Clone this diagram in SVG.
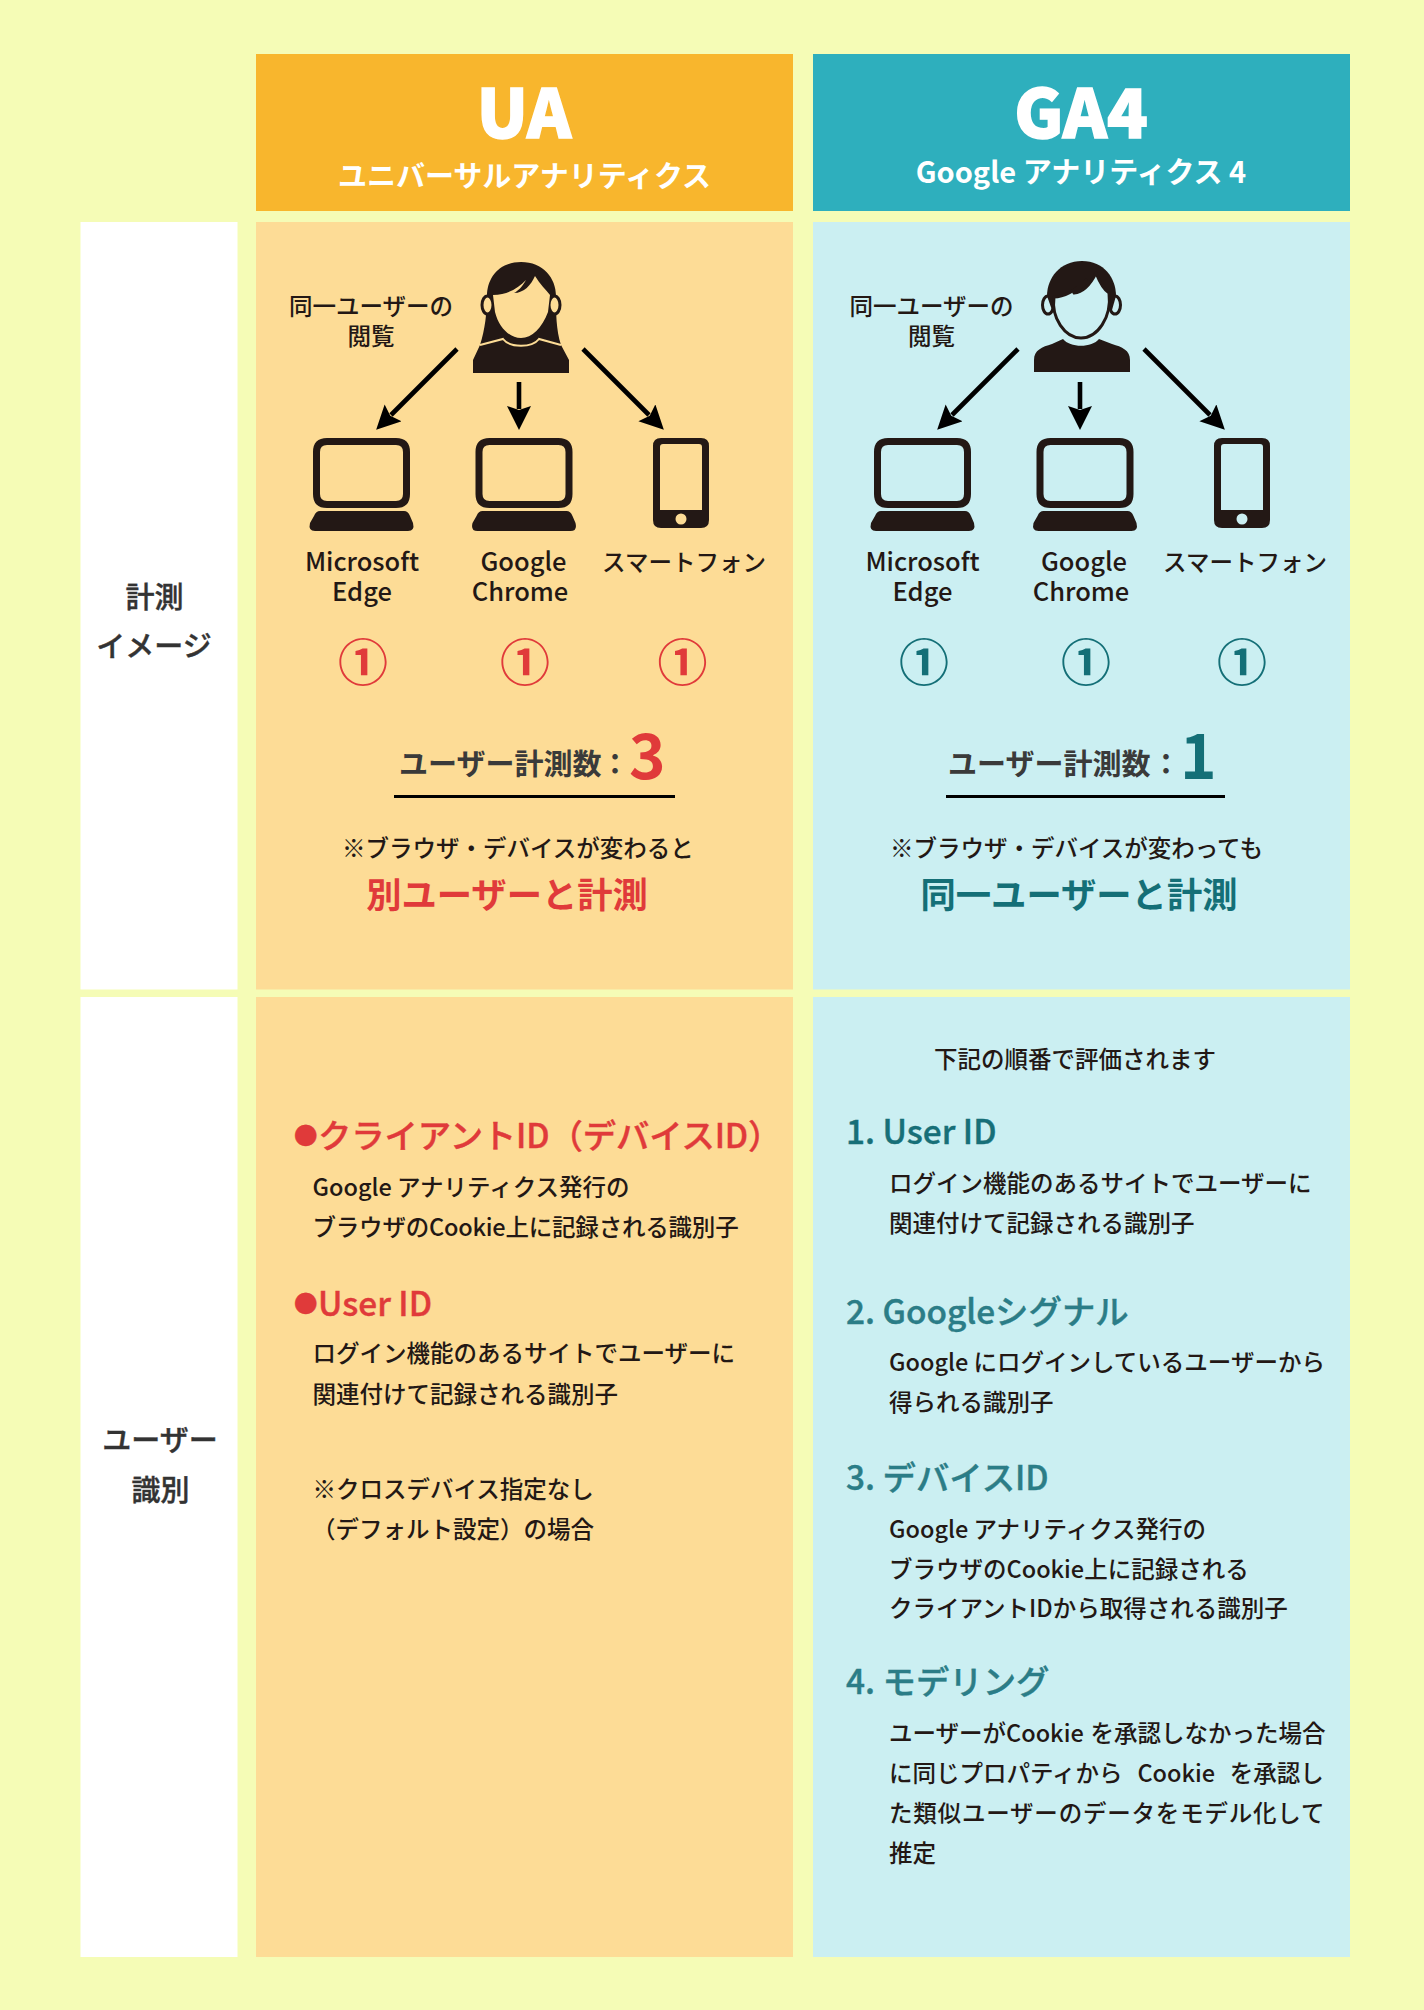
<svg xmlns="http://www.w3.org/2000/svg" xmlns:xlink="http://www.w3.org/1999/xlink" width="1424" height="2010" viewBox="0 0 1424 2010">
<style>
text{font-family:"Noto Sans CJK JP","Noto Sans",sans-serif;font-weight:500;fill:#231815}
.c{text-anchor:middle}
.b{font-size:23.500px}
.l{font-size:25.500px}
.h1{font-size:67px;font-weight:900;fill:#fff;stroke:#fff;stroke-width:1.500px;text-anchor:middle}
.h2{font-size:29px;font-weight:700;fill:#fff;text-anchor:middle}
.side{font-size:29px;text-anchor:middle;fill:#333;stroke:#333;stroke-width:.4px}
.cnt{font-size:29px;fill:#3a3a3a;font-weight:700}
.red{fill:#e03a3a}
.teal{fill:#146f77}
.big{font-size:35.300px;font-weight:700}
.num{font-size:62px;font-weight:700}
.circ{font-size:50px;font-weight:700;text-anchor:middle}
.h3{font-size:33.400px;stroke:#e03a3a;stroke-width:.4px}
.dot{font-size:23.500px}
.tl{fill:#2b7d87;stroke:#2b7d87;stroke-width:.4px;font-size:33.400px}
.ink{fill:#231815}
.arrow{stroke:#000;stroke-width:4.600;fill:none;marker-end:url(#ah)}
</style>
<defs>
<marker id="ah" markerUnits="userSpaceOnUse" markerWidth="25" markerHeight="25" refX="3" refY="12" orient="auto"><path d="M0,0 L24,12 L0,24 L4,12 Z" fill="#000"/></marker>
<g id="laptop"><path class="ink" fill-rule="evenodd" d="M14,0 H83 Q97,0 97,14 V56 Q97,70 83,70 H14 Q0,70 0,56 V14 Q0,0 14,0 Z M14,7 Q7,7 7,14 V56 Q7,63 14,63 H83 Q90,63 90,56 V14 Q90,7 83,7 Z"/><path class="ink" d="M7,73 H91 Q95,73 97,78 L100,85 Q102,93 95,93 H2 Q-5,93 -3,85 L1,78 Q3,73 7,73 Z"/></g>
<g id="phone"><path class="ink" fill-rule="evenodd" d="M8,0 H48 Q56,0 56,8 V82 Q56,90 48,90 H8 Q0,90 0,82 V8 Q0,0 8,0 Z M10,6 Q7,6 7,9 V72 H49 V9 Q49,6 46,6 Z"/></g>
</defs>
<rect width="1424" height="2010" fill="#f5fcb6"/>
<g id="header-ua"><rect x="256" y="54" width="537" height="157" fill="#f8b62d"/><text class="h1" x="524" y="137.500">UA</text><text class="h2" x="524.500" y="187">ユニバーサルアナリティクス</text></g>
<g id="header-ga4"><rect x="813" y="54" width="537" height="157" fill="#2eafbd"/><text class="h1" x="1081" y="137.500">GA4</text><text class="h2" x="1081" y="183">Google アナリティクス 4</text></g>
<g id="label-measure"><rect x="80.500" y="222" width="157" height="767.500" fill="#fff"/><text class="side" x="154.500" y="608">計測</text><text class="side" x="154" y="657">イメージ</text></g>
<g id="label-identify"><rect x="80.500" y="997" width="157" height="960" fill="#fff"/><text class="side" x="160" y="1451">ユーザー</text><text class="side" x="160.500" y="1501">識別</text></g>
<g id="panel-ua-measure"><rect x="256" y="222" width="537" height="767.500" fill="#fddc96"/>
<text class="b c" x="371" y="315">同一ユーザーの</text><text class="b c" x="371" y="345">閲覧</text>
<g id="person-f">
<path class="ink" d="M521,262 C499,262 487,278 487,296 C487,312 485,330 480,345 L473,360 L473,373 H569 V360 L561,345 C556,330 556,312 556,296 C556,278 543,262 521,262 Z"/>
<ellipse cx="487.500" cy="305" rx="5.500" ry="9" fill="#fddc96" stroke="#231815" stroke-width="3"/><ellipse cx="554.500" cy="305" rx="5.500" ry="9" fill="#fddc96" stroke="#231815" stroke-width="3"/>
<path fill="#fddc96" d="M493,295 C508,295 518,288 526,280 C522,287 518,291 514,293 C524,293 531,285 535,276 C540,284 546,290 550,295 L548,312 C542,328 532,338 521,338 C510,338 499,328 495,312 Z"/>
<path d="M480,345 L503,339 C510,348 532,348 539,339 L561,345" fill="none" stroke="#fddc96" stroke-width="2"/>
</g>
<use xlink:href="#laptop" href="#laptop" x="313" y="438"/><use xlink:href="#laptop" href="#laptop" x="475.500" y="438"/><use xlink:href="#phone" href="#phone" x="653" y="438"/><circle cx="681" cy="519" r="5.500" fill="#fddc96"/>
<text class="l c" x="362" y="571">Microsoft</text><text class="l c" x="362" y="601">Edge</text><text class="l c" x="523.500" y="571">Google</text><text class="l c" x="520" y="601">Chrome</text><text class="b c" x="684" y="571">スマートフォン</text>
<text class="circ red" x="363" y="681">①</text><text class="circ red" x="525" y="681">①</text><text class="circ red" x="682.500" y="681">①</text>
<text class="cnt" x="399" y="775">ユーザー計測数<tspan x="600.500">：</tspan></text><text class="num red" x="629" y="779">3</text>
<rect x="394" y="795" width="281" height="3" fill="#000"/>
<text class="b" x="342" y="857">※ブラウザ・デバイスが変わると</text><text class="big red c" x="507" y="908">別ユーザーと計測</text>
</g>
<g id="panel-ga4-measure"><rect x="813" y="222" width="537" height="767.500" fill="#cbeff2"/>
<text class="b c" x="931.500" y="315">同一ユーザーの</text><text class="b c" x="931.500" y="345">閲覧</text>
<g id="person-m">
<path class="ink" d="M1034,372 V360 C1034,350 1042,347 1052,344 L1063,339 C1070,348 1092,348 1099,339 L1112,344 C1122,347 1130,350 1130,360 V372 Z"/>
<ellipse cx="1048" cy="305" rx="5.500" ry="9" fill="#cbeff2" stroke="#231815" stroke-width="3"/><ellipse cx="1115" cy="305" rx="5.500" ry="9" fill="#cbeff2" stroke="#231815" stroke-width="3"/>
<path class="ink" d="M1082,261 C1060,261 1047,278 1047,296 L1052,310 H1112 L1116,296 C1116,278 1104,261 1082,261 Z"/>
<path fill="#cbeff2" stroke="#231815" stroke-width="3" stroke-linejoin="round" d="M1054,297 C1067,297 1078,288 1086,280 C1082,287 1078,290 1074,293 C1084,292 1091,283 1096,273 C1100,283 1104,290 1109,293 C1112,318 1097,338 1081,338 C1065,338 1051,318 1054,297 Z"/>
</g>
<use xlink:href="#laptop" href="#laptop" x="874" y="438"/><use xlink:href="#laptop" href="#laptop" x="1036.500" y="438"/><use xlink:href="#phone" href="#phone" x="1214" y="438"/><circle cx="1242" cy="519" r="5.500" fill="#cbeff2"/>
<text class="l c" x="922.500" y="571">Microsoft</text><text class="l c" x="922.500" y="601">Edge</text><text class="l c" x="1084" y="571">Google</text><text class="l c" x="1081" y="601">Chrome</text><text class="b c" x="1245" y="571">スマートフォン</text>
<text class="circ teal" x="924" y="681">①</text><text class="circ teal" x="1086" y="681">①</text><text class="circ teal" x="1242" y="681">①</text>
<text class="cnt" x="948" y="775">ユーザー計測数<tspan x="1151.500">：</tspan></text><text class="num teal" x="1180" y="779">1</text>
<rect x="946" y="795" width="279" height="3" fill="#000"/>
<text class="b" x="890" y="857">※ブラウザ・デバイスが変わっても</text><text class="big teal c" x="1079" y="908">同一ユーザーと計測</text>
</g>
<g id="panel-ua-identify"><rect x="256" y="997" width="537" height="960" fill="#fddc96"/>
<text class="h3 red"><tspan class="dot" x="294" y="1144">●</tspan><tspan x="318" y="1148" style="letter-spacing:-.15px">クライアントID（デバイスID）</tspan></text>
<text class="b" x="312.500" y="1196">Google アナリティクス発行の</text><text class="b" x="312.500" y="1236" style="letter-spacing:-.2px">ブラウザのCookie上に記録される識別子</text>
<text class="h3 red"><tspan class="dot" x="294" y="1312">●</tspan><tspan x="318" y="1316">User ID</tspan></text>
<text class="b" x="312.500" y="1362">ログイン機能のあるサイトでユーザーに</text><text class="b" x="312.500" y="1403">関連付けて記録される識別子</text>
<text class="b" x="312.500" y="1498">※クロスデバイス指定なし</text><text class="b" x="312" y="1538">（デフォルト設定）の場合</text>
</g>
<g id="panel-ga4-identify"><rect x="813" y="997" width="537" height="960" fill="#cbeff2"/>
<text class="b c" x="1075" y="1068">下記の順番で評価されます</text>
<text class="tl" x="846" y="1144" style="fill:#176f78;stroke:#176f78">1. User ID</text>
<text class="b" x="889" y="1192">ログイン機能のあるサイトでユーザーに</text><text class="b" x="889" y="1232">関連付けて記録される識別子</text>
<text class="tl" x="846" y="1324">2. Googleシグナル</text>
<text class="b" x="889" y="1371">Google にログインしているユーザーから</text><text class="b" x="889" y="1411">得られる識別子</text>
<text class="tl" x="846" y="1490">3. デバイスID</text>
<text class="b" x="889" y="1538">Google アナリティクス発行の</text><text class="b" x="889" y="1578">ブラウザのCookie上に記録される</text><text class="b" x="889" y="1617">クライアントIDから取得される識別子</text>
<text class="tl" x="846" y="1694">4. モデリング</text>
<text class="b" x="889" y="1742" style="word-spacing:1.500px">ユーザーがCookie を承認しなかった場合</text><text class="b" x="889" y="1782" style="word-spacing:9.500px">に同じプロパティから Cookie を承認し</text><text class="b" x="889" y="1822" style="letter-spacing:.8px">た類似ユーザーのデータをモデル化して</text><text class="b" x="889" y="1862">推定</text>
</g>
<g id="connectors">
<line class="arrow" x1="457" y1="349" x2="391" y2="415"/><line class="arrow" x1="519" y1="382" x2="519" y2="409"/><line class="arrow" x1="583" y1="349" x2="649" y2="415"/>
<line class="arrow" x1="1018" y1="349" x2="952" y2="415"/><line class="arrow" x1="1080" y1="382" x2="1080" y2="409"/><line class="arrow" x1="1144" y1="349" x2="1210" y2="415"/>
</g>
</svg>
